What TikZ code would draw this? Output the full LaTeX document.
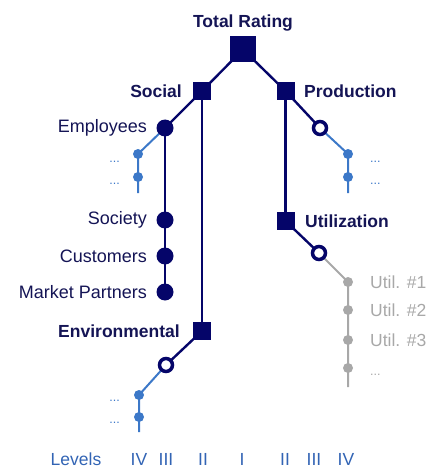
\documentclass[tikz,border=0pt]{standalone}
\usepackage{fontspec}
\setmainfont{Liberation Sans}
\definecolor{navy}{RGB}{5,5,105}
\definecolor{navytext}{RGB}{20,20,85}
\definecolor{lblue}{RGB}{60,120,200}
\definecolor{lgray}{RGB}{168,168,168}
\definecolor{lvlblue}{RGB}{50,100,180}
\pgfdeclarelayer{bg}
\pgfsetlayers{bg,main}
\tikzset{
  sq/.style={rectangle, fill=navy, minimum size=18pt, inner sep=0pt},
  bigsq/.style={sq, minimum size=26pt},
  fdot/.style={circle, fill=navy, minimum size=17pt, inner sep=0pt},
  odot/.style={circle, draw=navy, line width=3.5pt, fill=white, minimum size=13pt, inner sep=0pt},
  bdot/.style={circle, fill=lblue, minimum size=10pt, inner sep=0pt},
  gdot/.style={circle, fill=lgray, minimum size=10pt, inner sep=0pt},
  lbl/.style={font=\fontsize{18}{20}\selectfont, text=navytext, inner sep=0pt},
  blbl/.style={font=\fontsize{17.5}{20}\selectfont\bfseries, text=navytext, inner sep=0pt},
  dotlbl/.style={font=\fontsize{12.5}{14}\selectfont, text=lblue, inner sep=0pt},
  glbl/.style={font=\fontsize{17.5}{20}\selectfont, text=lgray, inner sep=0pt},
  lvl/.style={font=\fontsize{17.5}{20}\selectfont, text=lvlblue, inner sep=0pt, anchor=base},
  navyline/.style={draw=navy, line width=2.4pt},
  blueline/.style={draw=lblue, line width=2pt},
  grayline/.style={draw=lgray, line width=2pt}
}
\begin{document}
\begin{tikzpicture}[x=1pt,y=-1pt]
\useasboundingbox (0,0) rectangle (432,468);
% main nodes
\node[bigsq] (total) at (243,49.5) {};
\node[sq] (social) at (202,91) {};
\node[sq] (prod) at (285.5,91) {};
\node[sq] (env) at (202,331) {};
\node[sq] (util) at (285.5,221) {};
\node[fdot] (emp) at (165,128) {};
\node[fdot] (soc) at (165,220) {};
\node[fdot] (cust) at (165,256) {};
\node[fdot] (mp) at (165,292) {};
\node[odot] (prodo) at (320,128) {};
\node[odot] (envo) at (166,365) {};
\node[odot] (utilo) at (319,253) {};
\node[bdot] (e1) at (138,154) {};
\node[bdot] (e2) at (138,177) {};
\coordinate (eend) at (138,193);
\node[bdot] (p1) at (348,154) {};
\node[bdot] (p2) at (348,177) {};
\coordinate (pend) at (348,193);
\node[bdot] (v1) at (139,395) {};
\node[bdot] (v2) at (139,417) {};
\coordinate (vend) at (139,432);
\node[gdot] (u1) at (348,282) {};
\node[gdot] (u2) at (348,310) {};
\node[gdot] (u3) at (348,340) {};
\node[gdot] (u4) at (348,368) {};
\coordinate (uend) at (348,387);
% connectors
\begin{pgfonlayer}{bg}
\draw[navyline] (total.center) -- (social.center);
\draw[navyline] (total.center) -- (prod.center);
\draw[navyline] (social.center) -- (emp.center);
\draw[navyline] (social.center) -- (env.center);
\draw[navyline] (emp.center) -- (mp.center);
\draw[navyline] (prod.center) -- (prodo.center);
\draw[navyline] (prod.center) -- (util.center);
\draw[navyline] (env.center) -- (envo.center);
\draw[navyline] (util.center) -- (utilo.center);
\draw[blueline] (emp.center) -- (e1.center) -- (e2.center) -- (eend);
\draw[blueline] (prodo.center) -- (p1.center) -- (p2.center) -- (pend);
\draw[blueline] (envo.center) -- (v1.center) -- (v2.center) -- (vend);
\draw[grayline] (utilo.center) -- (u1.center) -- (u2.center) -- (u3.center) -- (u4.center) -- (uend);
\end{pgfonlayer}
% labels
\node[blbl] (tTotal) at (243,23) {Total Rating};
\node[blbl, anchor=east] (tSocial) at (182,91) {Social};
\node[blbl, anchor=west] (tProd) at (304,91) {Production};
\node[blbl, anchor=west] (tUtil) at (305,221) {Utilization};
\node[blbl, anchor=east] (tEnv) at (180,331) {Environmental};
\node[lbl, anchor=east] (tEmp) at (147,128) {Employees};
\node[lbl, anchor=east] (tSoc) at (147,220) {Society};
\node[lbl, anchor=east] (tCust) at (147,256) {Customers};
\node[lbl, anchor=east] (tMP) at (147,292) {Market Partners};
\node[dotlbl, anchor=base east] (d1) at (120,162) {...};
\node[dotlbl, anchor=base east] (d2) at (120,184) {...};
\node[dotlbl, anchor=base east] (d3) at (120,401) {...};
\node[dotlbl, anchor=base east] (d4) at (120,423) {...};
\node[dotlbl, anchor=base west] (d5) at (370,162) {...};
\node[dotlbl, anchor=base west] (d6) at (370,184) {...};
\node[glbl, anchor=west] (tu1) at (370,282) {Util. \#1};
\node[glbl, anchor=west] (tu2) at (370,310) {Util. \#2};
\node[glbl, anchor=west] (tu3) at (370,340) {Util. \#3};
\node[glbl, anchor=base west, font=\fontsize{12.5}{14}\selectfont] (tu4) at (370,375) {...};
% levels
\node[lvl] (lv) at (76,465) {Levels};
\node[lvl] (l4a) at (139,465) {IV};
\node[lvl] (l3a) at (166,465) {III};
\node[lvl] (l2a) at (203,465) {II};
\node[lvl] (l1) at (242,465) {I};
\node[lvl] (l2b) at (285,465) {II};
\node[lvl] (l3b) at (314,465) {III};
\node[lvl] (l4b) at (346,465) {IV};
\end{tikzpicture}
\end{document}
